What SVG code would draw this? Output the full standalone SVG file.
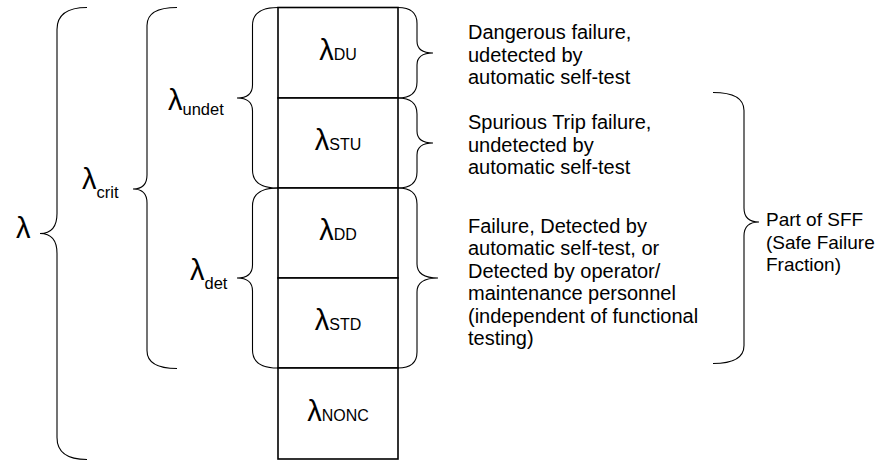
<svg xmlns="http://www.w3.org/2000/svg" width="880" height="461" viewBox="0 0 880 461">
  <style>
    .brace { fill: none; stroke: #000; stroke-width: 1.1; }
    .cell { fill: #fff; stroke: #000; stroke-width: 1.6; }
    text { font-family: "Liberation Sans", Arial, sans-serif; fill: #000; }
    .lam { font-size: 29px; }
    .sub { font-size: 16.5px; }
    .csub { font-size: 16px; }
    .desc { font-size: 20px; }
    .side { font-size: 19px; }
  </style>

  <!-- failure-rate column -->
  <g id="column">
    <g id="cell-du">
      <rect class="cell" x="278" y="7.5" width="120" height="90.5"/>
      <text x="338" y="59.5" text-anchor="middle"><tspan class="lam">λ</tspan><tspan class="csub">DU</tspan></text>
    </g>
    <g id="cell-stu">
      <rect class="cell" x="278" y="98" width="120" height="90"/>
      <text x="338" y="149.5" text-anchor="middle"><tspan class="lam">λ</tspan><tspan class="csub">STU</tspan></text>
    </g>
    <g id="cell-dd">
      <rect class="cell" x="278" y="188" width="120" height="90"/>
      <text x="338" y="239.5" text-anchor="middle"><tspan class="lam">λ</tspan><tspan class="csub">DD</tspan></text>
    </g>
    <g id="cell-std">
      <rect class="cell" x="278" y="278" width="120" height="90"/>
      <text x="338" y="329.5" text-anchor="middle"><tspan class="lam">λ</tspan><tspan class="csub">STD</tspan></text>
    </g>
    <g id="cell-nonc">
      <rect class="cell" x="278" y="368" width="120" height="91"/>
      <text x="338" y="420.5" text-anchor="middle"><tspan class="lam">λ</tspan><tspan class="csub">NONC</tspan></text>
    </g>
  </g>

  <!-- grouping braces -->
  <g id="braces">
    <path class="brace" d="M87,7.5 Q57,7.5 57,29.5 V213.5 Q57,233.5 40,233.5 Q57,233.5 57,253.5 V437.5 Q57,459.5 87,459.5"/>
    <path class="brace" d="M177,7.5 Q147,7.5 147,25.5 V175 Q147,189 133,189 Q147,189 147,203 V350.5 Q147,368.5 177,368.5"/>
    <path class="brace" d="M278,7.5 Q252.5,7.5 252.5,25.5 V85 Q252.5,98 237,98 Q252.5,98 252.5,111 V170 Q252.5,188 278,188"/>
    <path class="brace" d="M278,188 Q252.5,188 252.5,206 V265 Q252.5,278 237,278 Q252.5,278 252.5,291 V350 Q252.5,368 278,368"/>
    <path class="brace" d="M398,7.5 Q417,7.5 417,23.5 V41 Q417,53 433,53 Q417,53 417,65 V82 Q417,98 398,98"/>
    <path class="brace" d="M398,98 Q417,98 417,114 V131 Q417,143 433,143 Q417,143 417,155 V172 Q417,188 398,188"/>
    <path class="brace" d="M398,188 Q417,188 417,204 V264 Q417,278 438,278 Q417,278 417,292 V352 Q417,368 398,368"/>
    <path class="brace" d="M713,92.5 Q744,92.5 744,110.5 V208 Q744,222 759,222 Q744,222 744,236 V345.5 Q744,363.5 713,363.5"/>
  </g>

  <!-- rate symbols -->
  <g id="label-lambda">
    <text x="16" y="238" class="lam">λ</text>
  </g>
  <g id="label-crit">
    <text x="82" y="189"><tspan class="lam">λ</tspan><tspan class="sub" dy="9">crit</tspan></text>
  </g>
  <g id="label-undet">
    <text x="168" y="110"><tspan class="lam">λ</tspan><tspan class="sub" dy="5">undet</tspan></text>
  </g>
  <g id="label-det">
    <text x="190" y="280"><tspan class="lam">λ</tspan><tspan class="sub" dy="9">det</tspan></text>
  </g>

  <!-- descriptions -->
  <g id="desc-du">
    <text class="desc" x="468" y="39">
      <tspan x="468" y="39">Dangerous failure,</tspan>
      <tspan x="468" y="61.5">udetected by</tspan>
      <tspan x="468" y="84">automatic self-test</tspan>
    </text>
  </g>
  <g id="desc-stu">
    <text class="desc" x="468" y="129">
      <tspan x="468" y="129">Spurious Trip failure,</tspan>
      <tspan x="468" y="151.5">undetected by</tspan>
      <tspan x="468" y="174">automatic self-test</tspan>
    </text>
  </g>
  <g id="desc-detected">
    <text class="desc" x="468" y="232.5">
      <tspan x="468" y="232.5">Failure, Detected by</tspan>
      <tspan x="468" y="255">automatic self-test, or</tspan>
      <tspan x="468" y="277.5">Detected by operator/</tspan>
      <tspan x="468" y="300">maintenance personnel</tspan>
      <tspan x="468" y="322.5">(independent of functional</tspan>
      <tspan x="468" y="345">testing)</tspan>
    </text>
  </g>
  <g id="desc-sff">
    <text class="side" x="766" y="226">
      <tspan x="766" y="226">Part of SFF</tspan>
      <tspan x="766" y="248.5">(Safe Failure</tspan>
      <tspan x="766" y="271">Fraction)</tspan>
    </text>
  </g>
</svg>
